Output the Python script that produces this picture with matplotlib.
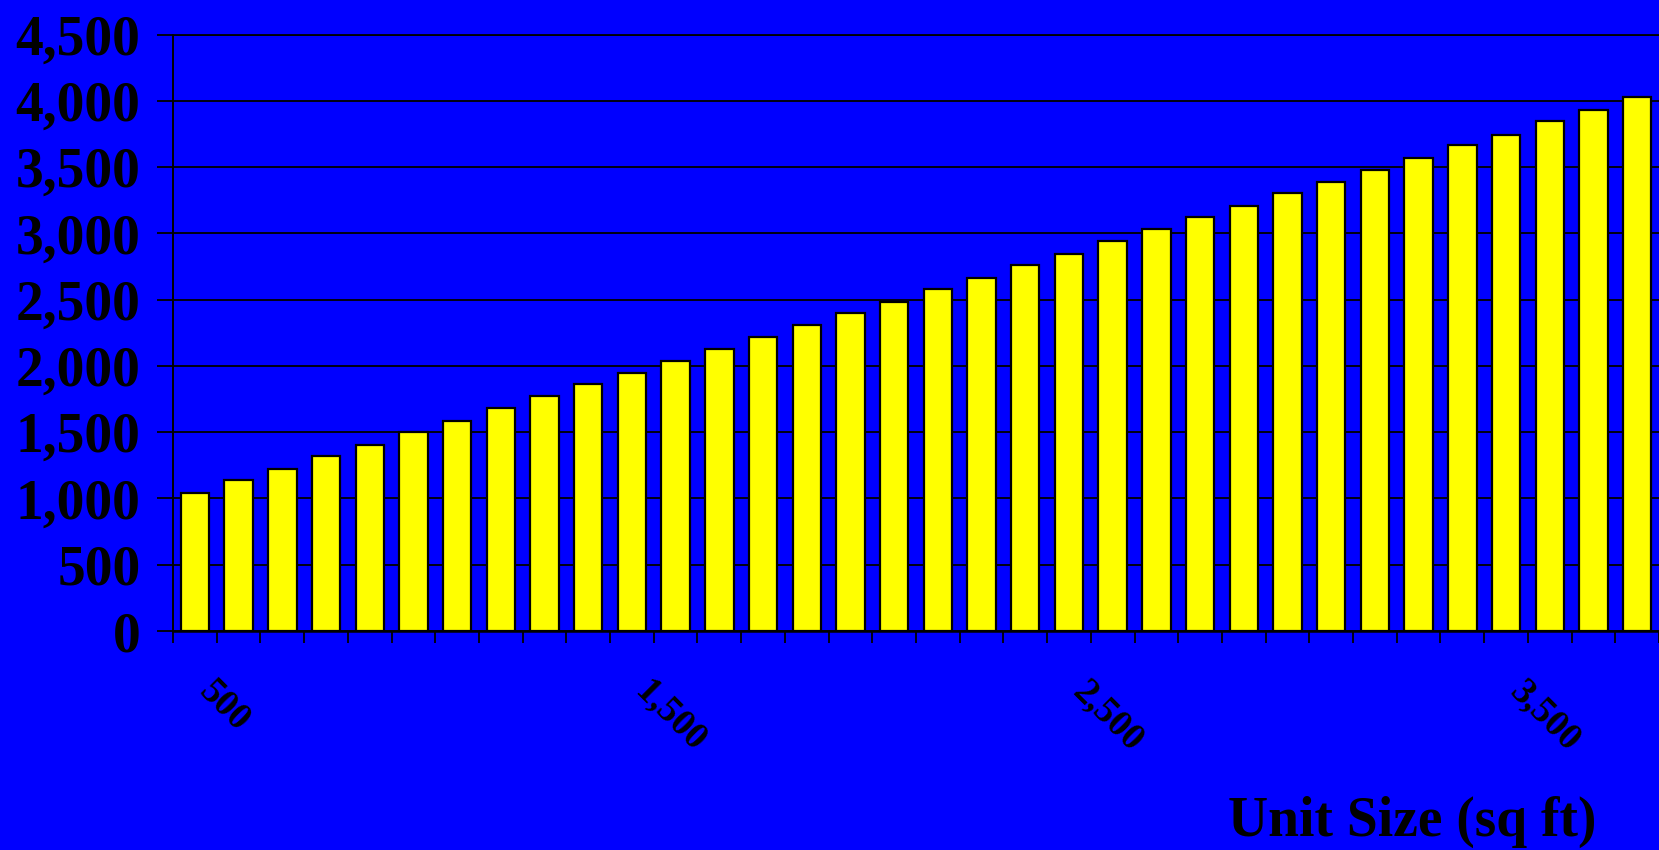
import numpy as np
import matplotlib
matplotlib.use("Agg")
import matplotlib.pyplot as plt
from matplotlib.transforms import ScaledTranslation

# Unit sizes (sq ft) and values
unit_sizes = list(range(500, 3900, 100))
values = [1045, 1140, 1225, 1320, 1405, 1500, 1585, 1685, 1770, 1865,
          1945, 2040, 2125, 2220, 2305, 2400, 2485, 2580, 2665, 2760,
          2845, 2940, 3030, 3125, 3205, 3305, 3385, 3480, 3565, 3665,
          3745, 3845, 3930, 4025]
labeled_sizes = [500, 1500, 2500, 3500]
y_ticks = list(range(0, 5000, 500))

plt.rcParams['font.family'] = ['Liberation Serif', 'DejaVu Serif']
plt.rcParams['font.weight'] = 'bold'

BLUE = '#0000FF'
YELLOW = '#FFFF00'

fig = plt.figure(figsize=(16.59, 8.5), dpi=100, facecolor=BLUE)
ax = fig.add_axes([0.1043, 0.2576, 0.8957, 0.7018])
ax.set_facecolor(BLUE)

x = np.arange(len(unit_sizes))
ax.bar(x, values, width=0.65, color=YELLOW, edgecolor='black', linewidth=1.6, zorder=3)

ax.set_xlim(-0.5, len(unit_sizes) - 0.5)
ax.set_ylim(0, 4500)

# y axis
ax.set_yticks(y_ticks)
ax.set_yticklabels([f"{v:,}" for v in y_ticks], fontsize=40, fontweight='bold')
ax.yaxis.grid(True, color='black', linewidth=1.3, zorder=0)
ax.tick_params(axis='y', direction='out', length=11.5, width=1.3, pad=12, colors='black')

# x axis: ticks at category boundaries, labels at selected centers
ax.set_xticks(np.arange(-0.5, len(unit_sizes), 1.0))
ax.set_xticklabels([])
ax.tick_params(axis='x', which='major', direction='out', length=8.6, width=1.3)
lab_pos = [unit_sizes.index(s) for s in labeled_sizes]
ax.set_xticks(lab_pos, minor=True)
ax.set_xticklabels([f"{s:,}" for s in labeled_sizes], minor=True,
                   fontsize=27, fontweight='bold', rotation=-45,
                   rotation_mode='anchor', ha='left', va='center')
ax.tick_params(axis='x', which='minor', length=0, pad=40)
for lab in ax.get_xticklabels(minor=True):
    lab.set_transform(lab.get_transform() + ScaledTranslation(0.09, 0, fig.dpi_scale_trans))

for side in ['left', 'bottom', 'top']:
    ax.spines[side].set_color('black')
ax.spines['left'].set_linewidth(1.4)
ax.spines['top'].set_linewidth(1.3)
ax.spines['bottom'].set_linewidth(1.8)
ax.spines['right'].set_visible(False)

fig.text(1412 / 1659, 14 / 850, "Unit Size (sq ft)", fontsize=40, fontweight='bold',
         ha='center', va='baseline', color='black')

fig.savefig("out.png", dpi=100, facecolor=BLUE)
